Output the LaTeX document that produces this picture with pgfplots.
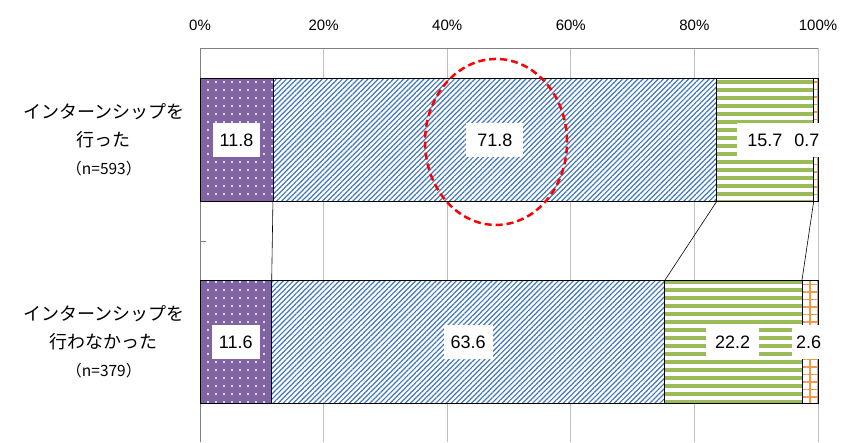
\documentclass[border=0pt]{standalone}
\usepackage{pgfplots}
\pgfplotsset{compat=1.18}
\usetikzlibrary{patterns.meta}
\usepackage{fontspec}
\setmainfont{Liberation Sans}
\newfontfamily\jp{Noto Sans CJK JP}

\definecolor{cPurple}{HTML}{8064A2}
\definecolor{cBlue}{HTML}{3F77BF}
\definecolor{cGreen}{HTML}{9BBB59}
\definecolor{cOrange}{HTML}{F79646}
\definecolor{cAxis}{HTML}{808080}
\definecolor{cGrid}{HTML}{BFBFBF}

\pgfplotsset{
  frame/.style={
    at={(200pt,0pt)}, anchor=south west,
    scale only axis, width=618pt, height=394pt,
    xmin=0, xmax=100, ymin=-0.495, ymax=1.455,
  },
}
\tikzset{vlab/.style={fill=white, inner xsep=7pt, minimum height=34pt,
  font=\fontsize{18}{18}\selectfont}}

\begin{document}
\begin{tikzpicture}[x=1pt,y=1pt]
\path[use as bounding box] (0,0) rectangle (853,442);
\begin{axis}[
    frame,
    xbar stacked,
    bar width=0.609,
    axis x line=top,
    axis y line=left,
    axis line style={-, draw=cAxis, line width=0.9pt},
    xtick={0,20,...,100},
    xticklabel={\pgfmathprintnumber{\tick}\%},
    xticklabel style={font=\fontsize{15}{15}\selectfont, yshift=14pt},
    /pgf/number format/assume math mode=true,
    xmajorgrids,
    grid style={cGrid, line width=0.8pt},
    major tick length=0pt,
    ytick={0,1},
    yticklabels={
      {インターンシップを\\行わなかった\\{\fontsize{15.5}{27}\selectfont （n=379）}},
      {インターンシップを\\行った\\{\fontsize{15.5}{27}\selectfont （n=593）}}
    },
    yticklabel style={font=\jp\fontsize{18}{28}\selectfont, align=center, xshift=-12pt},
    extra y ticks={0.5},
    extra y tick labels={},
    extra y tick style={major tick length=6pt, tick align=inside,
      tick style={draw=cAxis, line width=0.9pt}},
    clip=false,
]
% top bar = y 1, bottom bar = y 0
\addplot[draw=black, line width=0.6pt, fill=cPurple,
  postaction={pattern={Dots[radius=1.1pt, distance=8pt]}, pattern color=white}]
  coordinates {(11.8,1) (11.6,0)};
\addplot[draw=black, line width=0.6pt, fill=white,
  postaction={pattern={Lines[angle=45, distance=3.6pt, line width=1.2pt]}, pattern color=cBlue}]
  coordinates {(71.8,1) (63.6,0)};
\addplot[draw=black, line width=0.6pt, fill=white,
  postaction={pattern={Lines[angle=0, distance=8pt, line width=4pt]}, pattern color=cGreen}]
  coordinates {(15.7,1) (22.2,0)};
\addplot[draw=black, line width=0.6pt, fill=white,
  postaction={pattern={Hatch[angle=0, distance=7.5pt, line width=1.5pt]}, pattern color=cOrange}]
  coordinates {(0.7,1) (2.6,0)};
\end{axis}

% connector lines, value labels and highlight
\begin{axis}[frame, hide axis, clip=false]
\addplot[black, line width=0.6pt] coordinates {(11.8,0.6955) (11.6,0.3045)};
\addplot[black, line width=0.6pt] coordinates {(83.6,0.6955) (75.2,0.3045)};
\addplot[black, line width=0.6pt] coordinates {(99.3,0.6955) (97.4,0.3045)};
\node[vlab] at (axis cs:5.9,1) {11.8};
\node[vlab, inner xsep=11pt] at (axis cs:47.7,1) {71.8};
\node[vlab, inner xsep=10pt] at (axis cs:91.4,1) {15.7};
\node[vlab, inner xsep=4pt] at (axis cs:98.2,1) {0.7};
\node[vlab] at (axis cs:5.8,0) {11.6};
\node[vlab] at (axis cs:43.4,0) {63.6};
\node[vlab, inner xsep=9pt] at (axis cs:86.2,0) {22.2};
\node[vlab, inner xsep=4pt] at (axis cs:98.5,0) {2.6};
\draw[red, line width=2.5pt, dash pattern=on 7pt off 4pt]
  (axis cs:47.9,0.99) ellipse [x radius=71pt, y radius=83pt];
\end{axis}
\end{tikzpicture}
\end{document}
